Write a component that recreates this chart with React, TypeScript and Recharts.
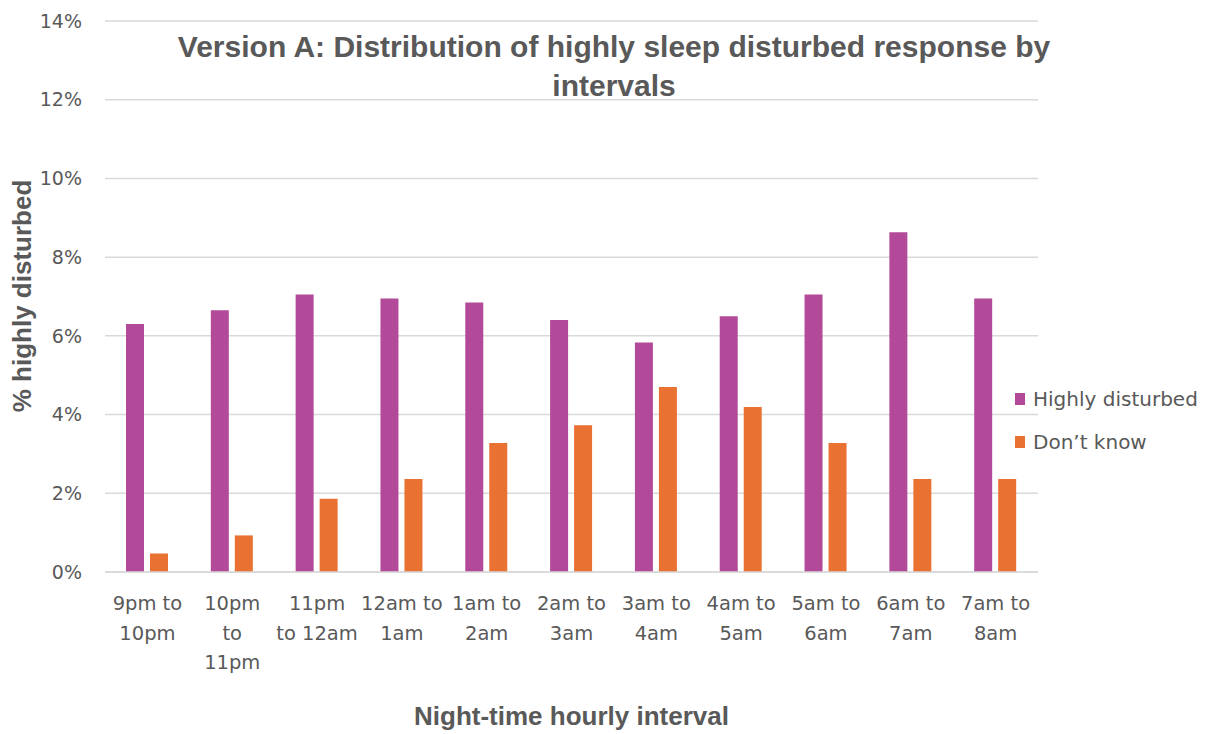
import React from "react";
import { BarChart, Bar, XAxis, YAxis, CartesianGrid } from "recharts";

const intervals = [
  "9pm to\n10pm",
  "10pm\nto\n11pm",
  "11pm\nto 12am",
  "12am to\n1am",
  "1am to\n2am",
  "2am to\n3am",
  "3am to\n4am",
  "4am to\n5am",
  "5am to\n6am",
  "6am to\n7am",
  "7am to\n8am",
];
const highlyDisturbed = [6.3, 6.65, 7.05, 6.95, 6.85, 6.4, 5.83, 6.5, 7.05, 8.63, 6.95];
const dontKnow = [0.47, 0.93, 1.86, 2.36, 3.28, 3.73, 4.7, 4.19, 3.28, 2.36, 2.36];
const yTicks = [0, 2, 4, 6, 8, 10, 12, 14];

const series = [
  { key: "hd", name: "Highly disturbed", color: "#b24a99" },
  { key: "dk", name: "Don\u2019t know", color: "#e97132" },
];

const data = intervals.map((interval, i) => ({
  interval,
  hd: highlyDisturbed[i],
  dk: dontKnow[i],
}));

const BOLD = "'Liberation Sans', Arial, sans-serif";
const REG = "'DejaVu Sans', sans-serif";
const TEXT = "#595959";

function IntervalTick({ x, y, payload }: any) {
  const lines = String(payload.value).split("\n");
  return (
    <text x={x} y={y} textAnchor="middle" fill={TEXT} fontSize={19.5} fontFamily={REG}>
      {lines.map((ln, i) => (
        <tspan key={i} x={x} dy={i === 0 ? 38 : 29.5}>
          {ln}
        </tspan>
      ))}
    </text>
  );
}

export default function App() {
  return (
    <div style={{ position: "absolute", left: 0, top: 0, width: 1214, height: 734, background: "#fff" }}>
      <BarChart
        width={1214}
        height={734}
        data={data}
        margin={{ top: 21, right: 176, bottom: 132, left: 0 }}
        barCategoryGap={21}
        barGap={6}
      >
        <CartesianGrid vertical={false} stroke="#d9d9d9" strokeWidth={1.5} />
        <XAxis
          dataKey="interval"
          height={30}
          tick={<IntervalTick />}
          tickLine={false}
          tickSize={0}
          tickMargin={0}
          axisLine={{ stroke: "#d9d9d9", strokeWidth: 1.5 }}
          interval={0}
        />
        <YAxis
          width={105}
          domain={[0, 14]}
          ticks={yTicks}
          tickFormatter={(v: number) => `${v}%`}
          tick={{ fill: TEXT, fontSize: 19, fontFamily: REG }}
          tickLine={false}
          tickSize={0}
          tickMargin={23}
          axisLine={false}
        />
        {series.map((s) => (
          <Bar key={s.key} dataKey={s.key} name={s.name} fill={s.color} isAnimationActive={false} />
        ))}
      </BarChart>

      <div style={{ position: "absolute", left: 1015, top: 377, fontFamily: REG }}>
        {series.map((s) => (
          <div key={s.key} style={{ display: "flex", alignItems: "center", height: 43 }}>
            <span style={{ width: 10, height: 12, background: s.color, marginRight: 8 }} />
            <span style={{ fontSize: 20, color: TEXT }}>{s.name}</span>
          </div>
        ))}
      </div>

      <div
        style={{
          position: "absolute",
          left: 120,
          top: 27,
          width: 988,
          textAlign: "center",
          fontFamily: BOLD,
          fontSize: 30,
          fontWeight: 700,
          color: TEXT,
          lineHeight: "39px",
        }}
      >
        Version A: Distribution of highly sleep disturbed response by
        <br />
        intervals
      </div>
      <div
        style={{
          position: "absolute",
          left: 105,
          width: 933,
          top: 701,
          textAlign: "center",
          fontFamily: BOLD,
          fontSize: 26,
          fontWeight: 700,
          color: TEXT,
        }}
      >
        Night-time hourly interval
      </div>
      <div
        style={{
          position: "absolute",
          left: 22,
          top: 296,
          transform: "translate(-50%, -50%) rotate(-90deg)",
          whiteSpace: "nowrap",
          fontFamily: BOLD,
          fontSize: 26,
          fontWeight: 700,
          color: TEXT,
        }}
      >
        % highly disturbed
      </div>
    </div>
  );
}
